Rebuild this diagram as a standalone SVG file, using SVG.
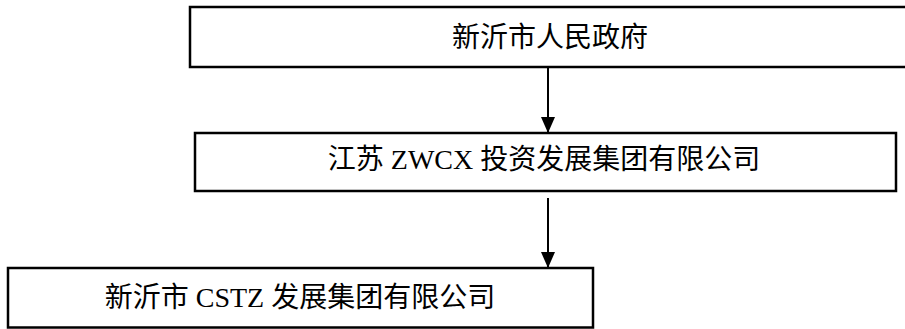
<svg xmlns="http://www.w3.org/2000/svg" width="905" height="329" viewBox="0 0 905 329">
<style>
.box{fill:#fff;stroke:#000;stroke-width:2.5}
.t{font-family:"Liberation Serif","Noto Sans CJK SC",serif;fill:#000;text-anchor:middle;font-size:28px}
.c{stroke:#000;stroke-width:2;fill:none}
</style>
<defs>
<marker id="ah" markerUnits="userSpaceOnUse" markerWidth="16" markerHeight="14" refX="15" refY="7" orient="auto">
<path d="M0,0 L16,7 L0,14 Z" fill="#000"/>
</marker>
</defs>
<rect width="905" height="329" fill="#fff"/>
<g id="connectors">
<line class="c" x1="548" y1="68" x2="548" y2="132" marker-end="url(#ah)"/>
<line class="c" x1="548" y1="198" x2="548" y2="267" marker-end="url(#ah)"/>
</g>
<g id="n1">
<rect class="box" x="190" y="7" width="730" height="60"/>
<text class="t" x="550" y="47">新沂市人民政府</text>
</g>
<g id="n2">
<rect class="box" x="195" y="133" width="701" height="58"/>
<text class="t" x="544" y="169">江苏 ZWCX 投资发展集团有限公司</text>
</g>
<g id="n3">
<rect class="box" x="8" y="268" width="585" height="59.5"/>
<text class="t" x="300" y="307">新沂市 CSTZ 发展集团有限公司</text>
</g>
</svg>
